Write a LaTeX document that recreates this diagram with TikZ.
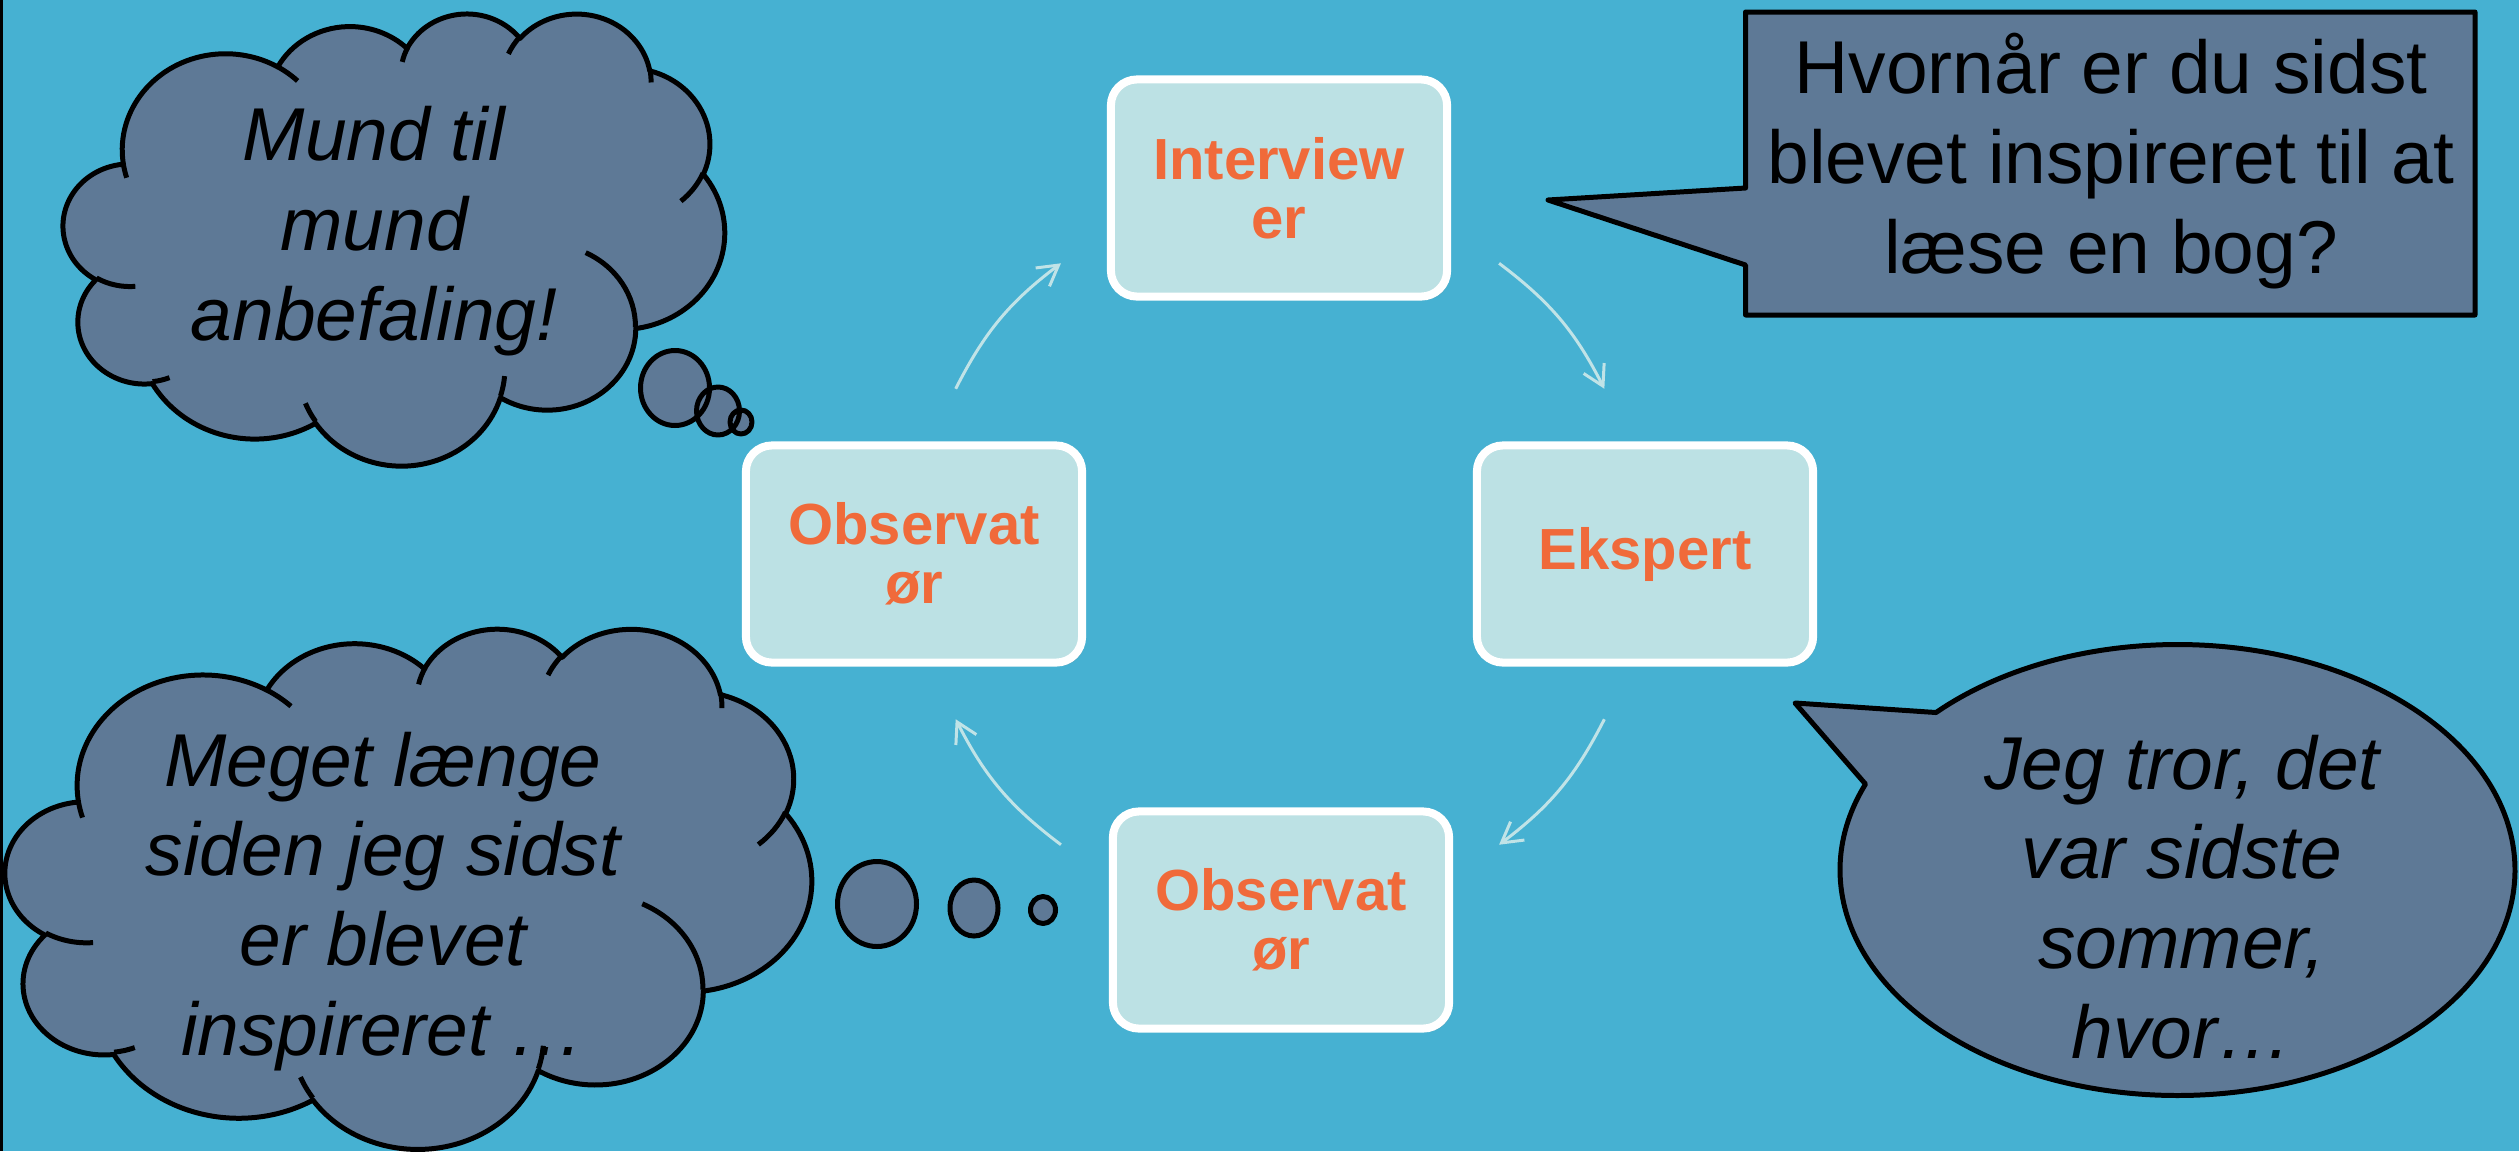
\documentclass[tikz,border=0pt]{standalone}
\usepackage{fontspec}
\setmainfont{Liberation Sans}
\usetikzlibrary{arrows.meta,calc,shadows}
\definecolor{bgblue}{RGB}{70,177,210}
\definecolor{boxfill}{RGB}{188,225,228}
\definecolor{orng}{RGB}{240,106,58}
\definecolor{cloudfill}{RGB}{94,121,150}
\definecolor{arrowc}{RGB}{192,227,231}

% OOXML-style elliptical arc (visual angles converted to parametric)
\newcommand\ooarc[4]{%
 \pgfextra{%
  \pgfmathsetmacro\ooA{#3}%
  \pgfmathsetmacro\ooB{#3+#4}%
  \pgfmathsetmacro\ooTa{atan2(#1*sin(\ooA),#2*cos(\ooA))}%
  \pgfmathsetmacro\ooTb{atan2(#1*sin(\ooB),#2*cos(\ooB))}%
  \pgfmathsetmacro\ooD{(\ooTb)-(\ooTa)}%
  \pgfmathsetmacro\ooD{(\ooD)+360*round(((#4)-(\ooD))/360)}%
  \pgfmathsetmacro\ooE{(\ooTa)+(\ooD)}%
  \pgfmathsetmacro\ooRx{#1/1000}%
  \pgfmathsetmacro\ooRy{#2/1000}%
  \xdef\gTa{\ooTa}\xdef\gE{\ooE}\xdef\gRx{\ooRx}\xdef\gRy{\ooRy}%
 }%
 arc[start angle=\gTa, end angle=\gE, x radius=\gRx, y radius=\gRy]%
}
\newcommand\cloudoutline{%
 (3.9,14.37)
 \ooarc{6753}{9190}{-190.48748}{123.78053}
 \ooarc{5333}{7267}{-144.10238}{89.94523}
 \ooarc{4365}{5945}{-145.80792}{99.72302}
 \ooarc{4857}{6595}{-130.98607}{117.24173}
 \ooarc{5333}{7273}{-78.70888}{109.02692}
 \ooarc{6775}{9220}{-46.26725}{130.269}
 \ooarc{5785}{7867}{0.62502}{114.03333}
 \ooarc{6752}{9215}{22.4516}{115.17255}
 \ooarc{7720}{10543}{66.24263}{75.71102}
 \ooarc{4360}{5918}{-274.94208}{146.73557}
 \ooarc{4345}{5945}{-246.8285}{152.51885}
 -- cycle}
\newcommand\cloudinner{%
 (4.693,26.177) \ooarc{4345}{5945}{86.742}{26.4295}
 (6.928,34.899) \ooarc{4360}{5918}{73.61047}{11.44747}
 (16.478,39.09) \ooarc{6752}{9215}{137.62415}{14.0811}
 (28.827,34.751) \ooarc{6752}{9215}{6.45327}{15.99835}
 (34.129,22.954) \ooarc{5785}{7867}{-70.29235}{70.91737}
 (41.798,15.354) \ooarc{5333}{7273}{30.31803}{27.7515}
 (38.324,5.426) \ooarc{4857}{6595}{-13.74433}{14.8589}
 (29.078,3.952) \ooarc{4857}{6595}{-149.18145}{18.19537}
 (22.141,4.72) \ooarc{4365}{5945}{-163.49427}{17.68635}
 (14.0,5.192) \ooarc{6753}{9190}{-66.70695}{12.31935}
 (4.127,15.789) \ooarc{6753}{9190}{157.65435}{11.85817}
}

\tikzset{
  cbox/.style={draw=white, line width=2.28pt, fill=boxfill, rounded corners=0.26cm,
    minimum width=3.36cm, minimum height=2.17cm, inner sep=0pt, align=center,
    font=\bfseries\fontsize{16.5pt}{16.8pt}\selectfont, text=orng,
    drop shadow={opacity=0.25, shadow xshift=0.8pt, shadow yshift=-1pt}},
  cyc/.style={draw=arrowc, line width=0.85pt, -{Straight Barb[length=2mm, width=2.3mm]}},
  outl/.style={draw=black, line width=1.42pt, line join=round},
  cloudtext/.style={font=\itshape\fontsize{21.3pt}{25.5pt}\selectfont, align=center, inner sep=0pt, text=black},
  calltext/.style={font=\fontsize{21.3pt}{25.5pt}\selectfont, align=center, inner sep=0pt, text=black}
}

\begin{document}
\begin{tikzpicture}[x=0.01cm, y=-0.01cm]
\useasboundingbox (0,0) rectangle (2519,1151);
\fill[bgblue] (0,0) rectangle (2519,1151);
\fill[black] (0,0) rectangle (2.5,1151);

% top-left cloud
\begin{scope}[shift={(63.5,12.5)}, xscale=661/43.2, yscale=452/43.2]
  \path[outl, fill=cloudfill] \cloudoutline;
  \path[outl] \cloudinner;
\end{scope}
\path[fill=cloudfill] (675,388) ellipse[x radius=34.5, y radius=37.5]
  (718,411) ellipse[x radius=21.5, y radius=24] (741,422) ellipse[x radius=11, y radius=12];
\path[outl] (675,388) ellipse[x radius=34.5, y radius=37.5]
  (718,411) ellipse[x radius=21.5, y radius=24] (741,422) ellipse[x radius=11, y radius=12];
\node[cloudtext, anchor=base] (t1) at (374,340) {Mund til\\mund\\anbefaling!};

% bottom-left cloud
\begin{scope}[shift={(5.5,627.5)}, xscale=806/43.2, yscale=520/43.2]
  \path[outl, fill=cloudfill] \cloudoutline;
  \path[outl] \cloudinner;
\end{scope}
\path[fill=cloudfill] (877,904) ellipse[x radius=39.5, y radius=42.5]
  (974,908) ellipse[x radius=24, y radius=28] (1043,910) ellipse[x radius=12.5, y radius=13.5];
\path[outl] (877,904) ellipse[x radius=39.5, y radius=42.5]
  (974,908) ellipse[x radius=24, y radius=28] (1043,910) ellipse[x radius=12.5, y radius=13.5];
\node[cloudtext, anchor=base] (t2) at (383,1055) {Meget længe\\siden jeg sidst\\er blevet\\inspireret …};

% rectangular callout
\path[outl, fill=cloudfill] (1745.5,12) -- (2475,12) -- (2475,315) -- (1745.5,315)
  -- (1745.5,265) -- (1548,200) -- (1745.5,188) -- cycle;
\node[calltext, anchor=base] (t3) at (2111,273) {Hvornår er du sidst\\blevet inspireret til at\\læse en bog?};

% elliptical callout
\coordinate (ecen) at (2177.5,870);
\coordinate (etip) at (1795,703);
\path[outl, fill=cloudfill] (etip) -- ($(ecen)+(-135.7:337.5 and 225.5)$)
  arc[start angle=-135.7, end angle=202.4, x radius=337.5, y radius=225.5] -- cycle;
\node[cloudtext, anchor=base] (t4) at (2182,1058) {Jeg tror, det\\var sidste\\sommer,\\hvor…};

% cycle boxes
\node[cbox] (int) at (1279,188) {Interview\\er};
\node[cbox] (eks) at (1645,554) {Ekspert};
\node[cbox] (obsb) at (1281,920) {Observat\\ør};
\node[cbox] (obsl) at (914,554) {Observat\\ør};

% cycle arrows
\coordinate (cen) at (1280,554);
\coordinate (a1s) at ($(cen)+(-153:364)$);
\coordinate (a1e) at ($(cen)+(-127:364)$);
\coordinate (a2s) at ($(cen)+(-53:364)$);
\coordinate (a2e) at ($(cen)+(-27:364)$);
\coordinate (a3s) at ($(cen)+(27:364)$);
\coordinate (a3e) at ($(cen)+(53:364)$);
\coordinate (a4s) at ($(cen)+(127:364)$);
\coordinate (a4e) at ($(cen)+(153:364)$);
\draw[cyc] (a1s) to[bend left=13] (a1e);
\draw[cyc] (a2s) to[bend left=13] (a2e);
\draw[cyc] (a3s) to[bend left=13] (a3e);
\draw[cyc] (a4s) to[bend left=13] (a4e);
\end{tikzpicture}
\end{document}
